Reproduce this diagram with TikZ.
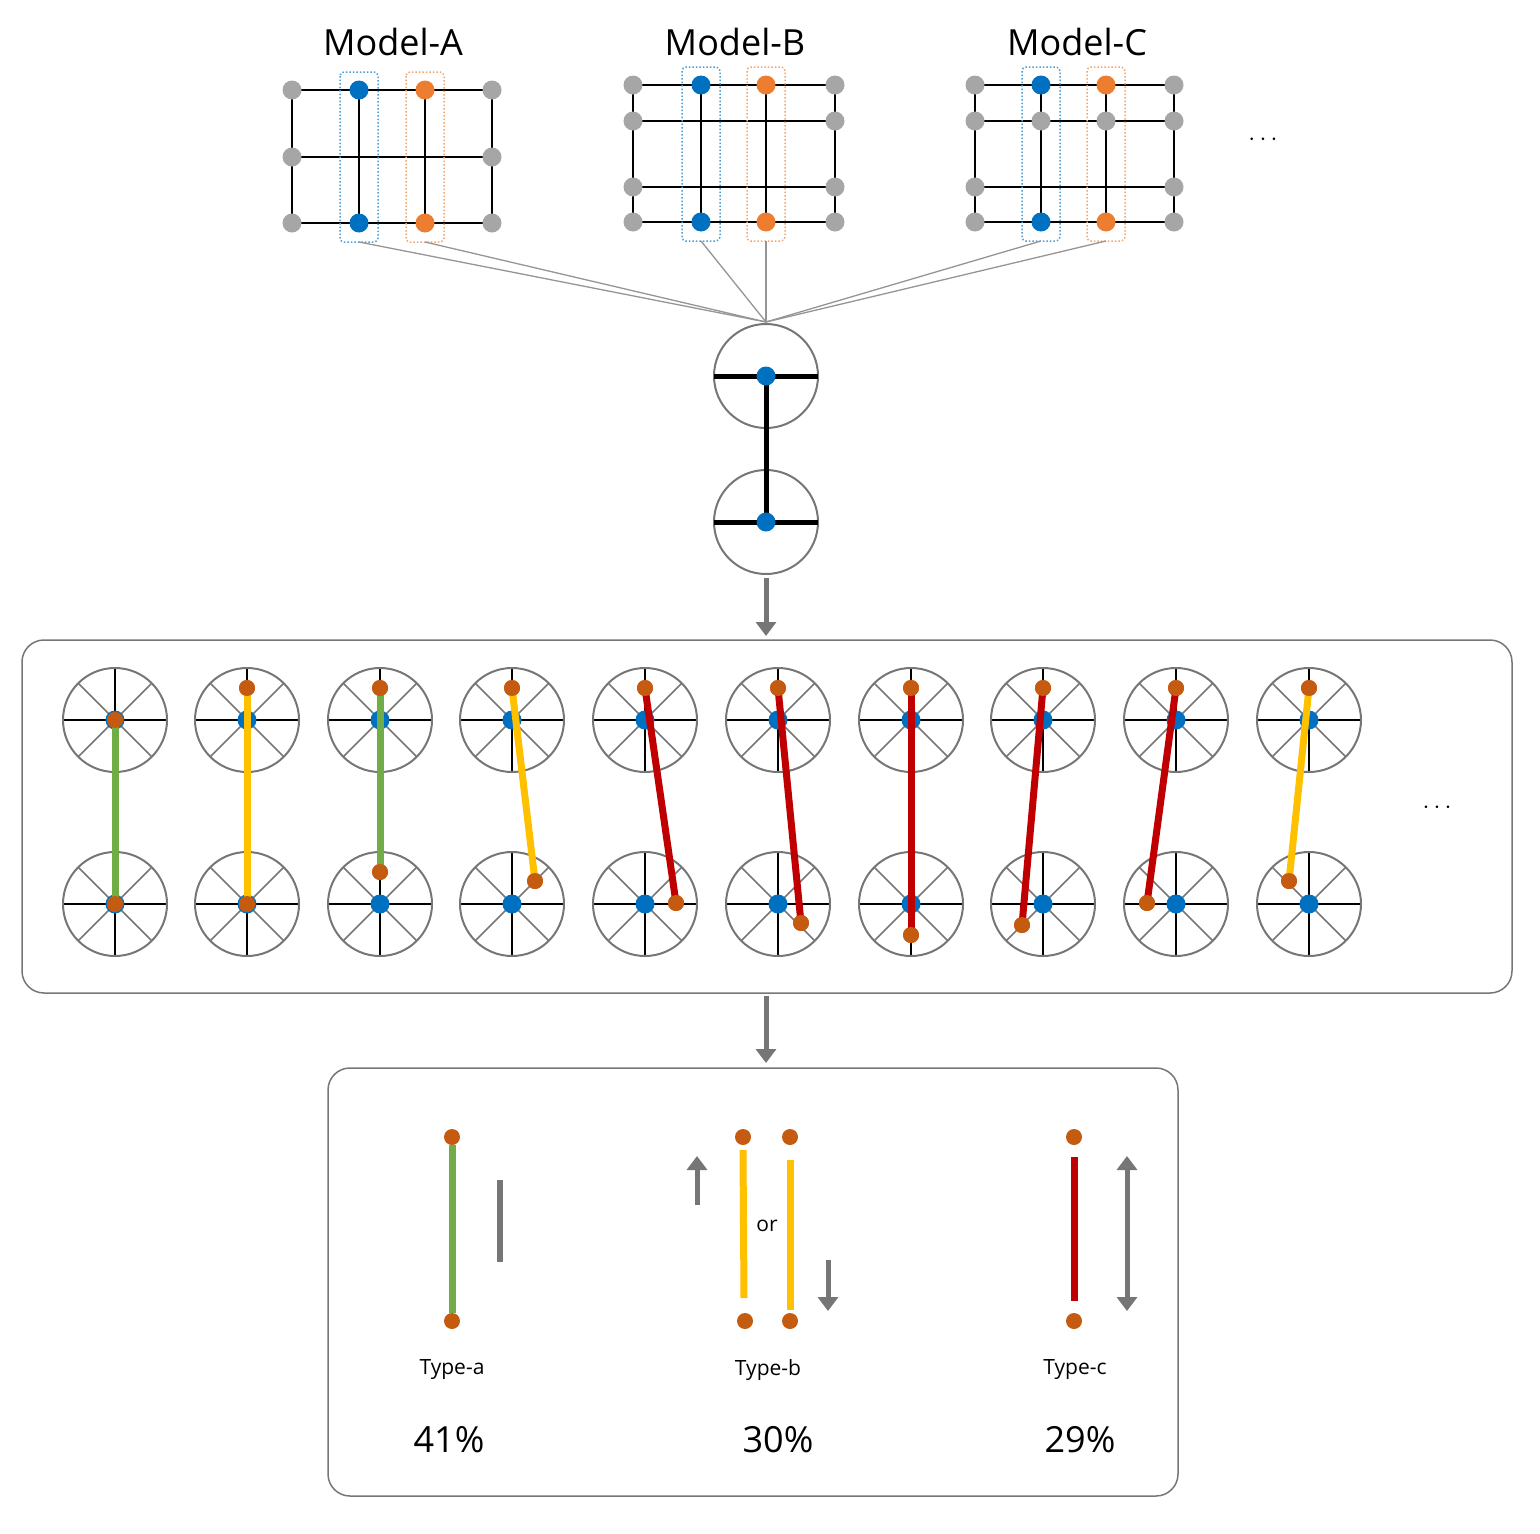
\documentclass[tikz,border=0pt]{standalone}
\usepackage{fontspec}
\setmainfont{Open Sans}
\usetikzlibrary{arrows.meta}
\definecolor{cblue}{RGB}{0,112,192}
\definecolor{corg}{RGB}{237,125,49}
\definecolor{cdot}{RGB}{197,90,17}
\definecolor{cgreen}{RGB}{112,173,71}
\definecolor{cyel}{RGB}{255,192,0}
\definecolor{cred}{RGB}{192,0,0}
\definecolor{cgray}{RGB}{166,166,166}
\definecolor{cdgray}{RGB}{118,118,118}
\tikzset{
 gd/.style={circle,fill=cgray,inner sep=0pt,minimum size=19pt},
 bd/.style={circle,fill=cblue,inner sep=0pt,minimum size=19pt},
 od/.style={circle,fill=corg,inner sep=0pt,minimum size=19pt},
 wd/.style={circle,fill=cdot,inner sep=0pt,minimum size=16pt},
 grid/.style={line width=2.2pt,black},
 bbox/.style={draw=cblue!70,dotted,line width=1.5pt,rounded corners=4pt},
 obox/.style={draw=corg!70,dotted,line width=1.5pt,rounded corners=4pt},
 feed/.style={draw=cgray!90!black,line width=1.3pt},
 big/.style={font=\fontsize{36}{40}\selectfont},
 small/.style={font=\fontsize{21}{24}\selectfont},
 flow/.style={draw=cdgray,line width=5pt,-{Triangle[length=14pt,width=20pt]}},
 bond/.style={line width=7pt},
 panel/.style={draw=cdgray,line width=1.5pt,rounded corners=22pt},
}
\newcommand{\wheel}[3]{% name, x, y
 \begin{scope}[shift={(#2,#3)}]
 \foreach \a in {45,135,225,315} \draw[cdgray,line width=1.5pt] (0,0) -- (\a:52);
 \draw[black,line width=2pt] (-52,0) -- (52,0) (0,-52) -- (0,52);
 \draw[cdgray,line width=2pt] (0,0) circle (52);
 \node[bd] (#1) at (0,0) {};
 \end{scope}}
\begin{document}
\begin{tikzpicture}[x=1pt,y=-1pt]
\useasboundingbox (0,0) rectangle (1540,1534);
% ---- Model A
\node[big] (tA) at (393,42) {Model-A};
\draw[grid] (292,90) -- (492,90) (292,157) -- (492,157) (292,223) -- (492,223)
 (292,90) -- (292,223) (359,90) -- (359,223) (425,90) -- (425,223) (492,90) -- (492,223);
\draw[bbox] (340,72) rectangle (378,242);
\draw[obox] (406,72) rectangle (444,242);
\foreach \p/\q in {a1/{292,90},a2/{292,157},a3/{292,223},a4/{492,90},a5/{492,157},a6/{492,223}} \node[gd] (\p) at (\q) {};
\node[bd] at (359,90) {}; \node[bd] at (359,223) {};
\node[od] at (425,90) {}; \node[od] at (425,223) {};
\coordinate (fa1) at (359,242); \coordinate (fa2) at (425,242);
% ---- Model B
\node[big] (tB) at (735,42) {Model-B};
\draw[grid] (633,85) -- (835,85) (633,121) -- (835,121) (633,187) -- (835,187) (633,222) -- (835,222)
 (633,85) -- (633,222) (701,85) -- (701,222) (766,85) -- (766,222) (835,85) -- (835,222);
\draw[bbox] (682,67) rectangle (720,241);
\draw[obox] (747,67) rectangle (785,241);
\foreach \y in {85,121,187,222} {\node[gd] at (633,\y) {}; \node[gd] at (835,\y) {};}
\node[bd] at (701,85) {}; \node[bd] at (701,222) {};
\node[od] at (766,85) {}; \node[od] at (766,222) {};
\coordinate (fb1) at (701,241); \coordinate (fb2) at (766,241);
% ---- Model C
\node[big] (tC) at (1077,42) {Model-C};
\draw[grid] (975,85) -- (1174,85) (975,121) -- (1174,121) (975,187) -- (1174,187) (975,222) -- (1174,222)
 (975,85) -- (975,222) (1041,85) -- (1041,222) (1106,85) -- (1106,222) (1174,85) -- (1174,222);
\draw[bbox] (1022,67) rectangle (1060,241);
\draw[obox] (1087,67) rectangle (1125,241);
\foreach \y in {85,121,187,222} {\node[gd] at (975,\y) {}; \node[gd] at (1174,\y) {};}
\node[gd] at (1041,121) {}; \node[gd] at (1106,121) {};
\node[bd] at (1041,85) {}; \node[bd] at (1041,222) {};
\node[od] at (1106,85) {}; \node[od] at (1106,222) {};
\coordinate (fc1) at (1041,241); \coordinate (fc2) at (1106,241);
\node[big] (dots1) at (1263,140) {$\cdots$};
% ---- feed lines
\coordinate (conv) at (766,322);
\foreach \f in {fa1,fa2,fb1,fb2,fc1,fc2} \draw[feed] (\f) -- (conv);
% ---- pair
\draw[cdgray,line width=2pt,fill=white] (766,376) circle (52);
\draw[cdgray,line width=2pt,fill=white] (766,522) circle (52);
\draw[black,line width=5pt] (714,376) -- (818,376) (714,522) -- (818,522) (766,376) -- (766,522);
\node[bd] (p1) at (766,376) {}; \node[bd] (p2) at (766,522) {};
\coordinate (ar1) at (766,578); \coordinate (ar2) at (766,636);
\draw[flow] (ar1) -- (ar2);
% ---- middle panel
\node[panel,minimum width=1490pt,minimum height=353pt] (mid) at (767,816.5) {};
\foreach \i/\x in {1/115,2/247,3/380,4/512,5/645,6/778,7/911,8/1043,9/1176,10/1309} {
 \wheel{t\i}{\x}{720}\wheel{b\i}{\x}{904}}
\foreach \i/\col/\tx/\ty/\bx/\by in {
 1/cgreen/115/720/115/904, 2/cyel/247/688/247/904, 3/cgreen/380/688/380/872,
 4/cyel/512/688/535/881, 5/cred/645/688/676/903, 6/cred/778/688/801/923,
 7/cred/911/688/911/935, 8/cred/1043/688/1022/925, 9/cred/1176/688/1147/903,
 10/cyel/1309/688/1289/881} {
 \node[wd] (u\i) at (\tx,\ty) {};
 \node[wd] (l\i) at (\bx,\by) {};
 \draw[\col,bond] (u\i.center) -- (l\i.center);
 \node[wd] at (\tx,\ty) {}; \node[wd] at (\bx,\by) {};
}
\node[big] (dots2) at (1437,808) {$\cdots$};
\coordinate (ar3) at (766,996); \coordinate (ar4) at (766,1063);
\draw[flow] (ar3) -- (ar4);
% ---- bottom panel
\node[panel,minimum width=850pt,minimum height=428pt] (bot) at (753,1282) {};
% type a
\node[wd] (a1t) at (452,1137) {}; \node[wd] (a1b) at (452,1321) {};
\draw[cgreen,bond] (a1t) -- (a1b);
\coordinate (ga1) at (500,1180); \coordinate (ga2) at (500,1262);
\draw[cdgray,line width=6pt] (ga1) -- (ga2);
\node[small] (la) at (452,1370) {Type-a};
\node[big] (pa) at (449,1440) {41\%};
% type b
\node[wd] (b1t) at (743,1137) {}; \node[wd] (b1b) at (745,1321) {};
\coordinate (b1s) at (743,1150); \coordinate (b1e) at (744,1298);
\draw[cyel,bond] (b1s) -- (b1e);
\node[wd] (b2t) at (790,1137) {}; \node[wd] (b2b) at (790,1321) {};
\coordinate (b2s) at (790,1160); \coordinate (b2e) at (790,1310);
\draw[cyel,bond] (b2s) -- (b2e);
\node[small] (or) at (767,1226) {or};
\coordinate (u1) at (697,1205); \coordinate (u2) at (697,1156);
\draw[flow] (u1) -- (u2);
\coordinate (d1) at (828,1260); \coordinate (d2) at (828,1311);
\draw[flow] (d1) -- (d2);
\node[small] (lb) at (768,1370) {Type-b};
\node[big] (pb) at (778,1440) {30\%};
% type c
\node[wd] (c1t) at (1074,1137) {}; \node[wd] (c1b) at (1074,1321) {};
\coordinate (c1s) at (1074,1157); \coordinate (c1e) at (1074,1301);
\draw[cred,bond] (c1s) -- (c1e);
\coordinate (cc1) at (1127,1156); \coordinate (cc2) at (1127,1311);
\draw[cdgray,line width=5pt,{Triangle[length=14pt,width=20pt]}-{Triangle[length=14pt,width=20pt]}] (cc1) -- (cc2);
\node[small] (lc) at (1075,1370) {Type-c};
\node[big] (pc) at (1080,1440) {29\%};
\end{tikzpicture}
\end{document}
